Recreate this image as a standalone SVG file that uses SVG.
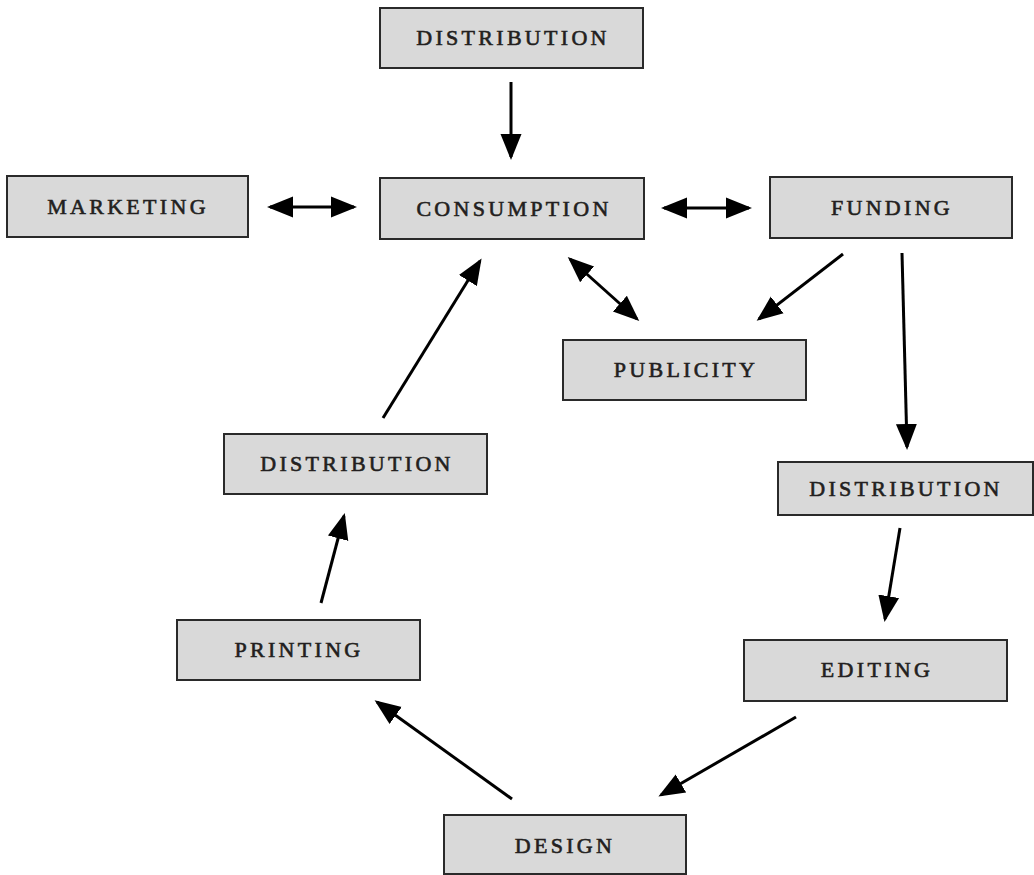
<svg xmlns="http://www.w3.org/2000/svg" width="1034" height="875" viewBox="0 0 1034 875">
<style>
.box{fill:#d9d9d9;stroke:#2a2a2a;stroke-width:2}
.lbl{font-family:"Liberation Serif",serif;font-size:22px;letter-spacing:3.3px;fill:#231f20;stroke:#231f20;stroke-width:0.6;text-anchor:middle}
.c{stroke:#000;stroke-width:3;fill:none;marker-end:url(#ah)}
.b{marker-start:url(#ah)}
</style>
<defs>
<marker id="ah" markerUnits="userSpaceOnUse" markerWidth="28" markerHeight="24" viewBox="0 0 28 24" refX="23" refY="12" orient="auto-start-reverse">
<path d="M0,1.5 L26,12 L0,22.5 z" fill="#000"/>
</marker>
</defs>
<rect width="1034" height="875" fill="#fff"/>
<g id="connectors">
<line class="c" x1="511" y1="82" x2="511" y2="157"/>
<line class="c b" x1="270" y1="207" x2="354" y2="207"/>
<line class="c b" x1="664" y1="208" x2="749" y2="208"/>
<line class="c b" x1="570" y1="259" x2="637" y2="319"/>
<line class="c" x1="843" y1="254" x2="759" y2="319"/>
<line class="c" x1="902" y1="253" x2="907" y2="447"/>
<line class="c" x1="900" y1="528" x2="885" y2="619"/>
<line class="c" x1="796" y1="717" x2="661" y2="795"/>
<line class="c" x1="512" y1="799" x2="377" y2="702"/>
<line class="c" x1="321" y1="603" x2="344" y2="516"/>
<line class="c" x1="383" y1="418" x2="480" y2="261"/>
</g>
<g id="dist-top"><rect class="box" x="380" y="8" width="263" height="60"/><text class="lbl" x="513" y="45">DISTRIBUTION</text></g>
<g id="marketing"><rect class="box" x="7" y="176" width="241" height="61"/><text class="lbl" x="128" y="214">MARKETING</text></g>
<g id="consumption"><rect class="box" x="380" y="178" width="264" height="61"/><text class="lbl" x="514" y="216">CONSUMPTION</text></g>
<g id="funding"><rect class="box" x="770" y="177" width="242" height="61"/><text class="lbl" x="892" y="215">FUNDING</text></g>
<g id="publicity"><rect class="box" x="563" y="340" width="243" height="60"/><text class="lbl" x="686" y="377">PUBLICITY</text></g>
<g id="dist-left"><rect class="box" x="224" y="434" width="263" height="60"/><text class="lbl" x="357" y="471">DISTRIBUTION</text></g>
<g id="dist-right"><rect class="box" x="778" y="462" width="255" height="53"/><text class="lbl" x="906" y="496">DISTRIBUTION</text></g>
<g id="printing"><rect class="box" x="177" y="620" width="243" height="60"/><text class="lbl" x="299" y="657">PRINTING</text></g>
<g id="editing"><rect class="box" x="744" y="640" width="263" height="61"/><text class="lbl" x="877" y="677">EDITING</text></g>
<g id="design"><rect class="box" x="444" y="815" width="242" height="59"/><text class="lbl" x="565" y="853">DESIGN</text></g>
</svg>
